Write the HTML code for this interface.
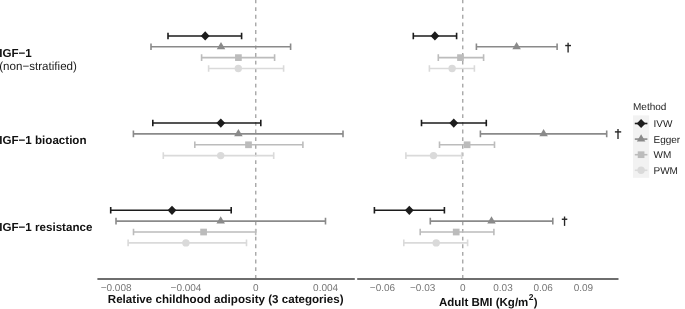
<!DOCTYPE html>
<html><head><meta charset="utf-8"><style>
html,body{margin:0;padding:0;background:#fff;}
svg{display:block;font-family:"Liberation Sans",sans-serif;filter:grayscale(1);text-rendering:geometricPrecision;}
</style></head><body>
<svg width="685" height="309" viewBox="0 0 685 309">
<rect width="685" height="309" fill="#fff"/>
<path d="M255.8 0V278M462.8 0V278" stroke="#8f8f8f" stroke-width="1.1" stroke-dasharray="3.825 3.825" stroke-dashoffset="0.5"/>
<path d="M168.00 35.93H241.60M168.00 32.63V39.23M241.60 32.63V39.23" stroke="#1c1c1c" stroke-width="1.6" fill="none"/>
<path d="M200.80 35.93L205.20 31.33L209.60 35.93L205.20 40.53Z" fill="#1c1c1c"/>
<path d="M151.00 46.78H290.60M151.00 43.48V50.08M290.60 43.48V50.08" stroke="#8a8a8a" stroke-width="1.6" fill="none"/>
<path d="M216.75 49.23L225.25 49.23L221.00 41.88Z" fill="#8a8a8a"/>
<path d="M201.60 57.62H274.60M201.60 54.33V60.92M274.60 54.33V60.92" stroke="#bcbcbc" stroke-width="1.6" fill="none"/>
<rect x="235.05" y="54.27" width="6.7" height="6.7" fill="#bcbcbc"/>
<path d="M208.60 68.47H283.60M208.60 65.17V71.77M283.60 65.17V71.77" stroke="#dadada" stroke-width="1.6" fill="none"/>
<circle cx="238.30" cy="68.47" r="3.7" fill="#dadada"/>
<path d="M152.80 123.07H260.80M152.80 119.77V126.37M260.80 119.77V126.37" stroke="#1c1c1c" stroke-width="1.6" fill="none"/>
<path d="M216.40 123.07L220.80 118.47L225.20 123.07L220.80 127.67Z" fill="#1c1c1c"/>
<path d="M133.40 133.92H343.00M133.40 130.62V137.22M343.00 130.62V137.22" stroke="#8a8a8a" stroke-width="1.6" fill="none"/>
<path d="M234.15 136.37L242.65 136.37L238.40 129.02Z" fill="#8a8a8a"/>
<path d="M194.80 144.78H302.90M194.80 141.47V148.08M302.90 141.47V148.08" stroke="#bcbcbc" stroke-width="1.6" fill="none"/>
<rect x="245.15" y="141.43" width="6.7" height="6.7" fill="#bcbcbc"/>
<path d="M163.30 155.62H273.70M163.30 152.32V158.93M273.70 152.32V158.93" stroke="#dadada" stroke-width="1.6" fill="none"/>
<circle cx="220.70" cy="155.62" r="3.7" fill="#dadada"/>
<path d="M110.70 210.32H231.20M110.70 207.02V213.62M231.20 207.02V213.62" stroke="#1c1c1c" stroke-width="1.6" fill="none"/>
<path d="M167.60 210.32L172.00 205.72L176.40 210.32L172.00 214.92Z" fill="#1c1c1c"/>
<path d="M116.00 221.17H325.50M116.00 217.87V224.47M325.50 217.87V224.47" stroke="#8a8a8a" stroke-width="1.6" fill="none"/>
<path d="M216.45 223.62L224.95 223.62L220.70 216.27Z" fill="#8a8a8a"/>
<path d="M133.50 232.03H255.70M133.50 228.72V235.33M255.70 228.72V235.33" stroke="#bcbcbc" stroke-width="1.6" fill="none"/>
<rect x="200.25" y="228.68" width="6.7" height="6.7" fill="#bcbcbc"/>
<path d="M128.10 242.88H246.50M128.10 239.57V246.18M246.50 239.57V246.18" stroke="#dadada" stroke-width="1.6" fill="none"/>
<circle cx="185.90" cy="242.88" r="3.7" fill="#dadada"/>
<path d="M413.30 35.93H456.60M413.30 32.63V39.23M456.60 32.63V39.23" stroke="#1c1c1c" stroke-width="1.6" fill="none"/>
<path d="M430.50 35.93L434.90 31.33L439.30 35.93L434.90 40.53Z" fill="#1c1c1c"/>
<path d="M476.40 46.78H557.10M476.40 43.48V50.08M557.10 43.48V50.08" stroke="#8a8a8a" stroke-width="1.6" fill="none"/>
<path d="M512.35 49.23L520.85 49.23L516.60 41.88Z" fill="#8a8a8a"/>
<path d="M438.30 57.62H483.60M438.30 54.33V60.92M483.60 54.33V60.92" stroke="#bcbcbc" stroke-width="1.6" fill="none"/>
<rect x="457.15" y="54.27" width="6.7" height="6.7" fill="#bcbcbc"/>
<path d="M429.40 68.47H474.40M429.40 65.17V71.77M474.40 65.17V71.77" stroke="#dadada" stroke-width="1.6" fill="none"/>
<circle cx="452.10" cy="68.47" r="3.7" fill="#dadada"/>
<path d="M421.50 123.07H486.30M421.50 119.77V126.37M486.30 119.77V126.37" stroke="#1c1c1c" stroke-width="1.6" fill="none"/>
<path d="M449.35 123.07L453.75 118.47L458.15 123.07L453.75 127.67Z" fill="#1c1c1c"/>
<path d="M480.40 133.92H606.70M480.40 130.62V137.22M606.70 130.62V137.22" stroke="#8a8a8a" stroke-width="1.6" fill="none"/>
<path d="M539.35 136.37L547.85 136.37L543.60 129.02Z" fill="#8a8a8a"/>
<path d="M439.50 144.78H494.50M439.50 141.47V148.08M494.50 141.47V148.08" stroke="#bcbcbc" stroke-width="1.6" fill="none"/>
<rect x="463.75" y="141.43" width="6.7" height="6.7" fill="#bcbcbc"/>
<path d="M405.90 155.62H461.70M405.90 152.32V158.93M461.70 152.32V158.93" stroke="#dadada" stroke-width="1.6" fill="none"/>
<circle cx="433.50" cy="155.62" r="3.7" fill="#dadada"/>
<path d="M374.40 210.32H444.40M374.40 207.02V213.62M444.40 207.02V213.62" stroke="#1c1c1c" stroke-width="1.6" fill="none"/>
<path d="M404.90 210.32L409.30 205.72L413.70 210.32L409.30 214.92Z" fill="#1c1c1c"/>
<path d="M430.30 221.17H552.80M430.30 217.87V224.47M552.80 217.87V224.47" stroke="#8a8a8a" stroke-width="1.6" fill="none"/>
<path d="M487.25 223.62L495.75 223.62L491.50 216.27Z" fill="#8a8a8a"/>
<path d="M420.20 232.03H493.90M420.20 228.72V235.33M493.90 228.72V235.33" stroke="#bcbcbc" stroke-width="1.6" fill="none"/>
<rect x="452.85" y="228.68" width="6.7" height="6.7" fill="#bcbcbc"/>
<path d="M403.80 242.88H467.60M403.80 239.57V246.18M467.60 239.57V246.18" stroke="#dadada" stroke-width="1.6" fill="none"/>
<circle cx="436.20" cy="242.88" r="3.7" fill="#dadada"/>
<path d="M568.10 42.80V52.50" stroke="#262626" stroke-width="1.35"/><path d="M565.20 45.55H571.00" stroke="#262626" stroke-width="1.4"/>
<path d="M618.00 128.90V138.90" stroke="#262626" stroke-width="1.35"/><path d="M614.90 131.90H621.20" stroke="#262626" stroke-width="1.4"/>
<path d="M564.55 216.50V225.90" stroke="#262626" stroke-width="1.35"/><path d="M561.80 219.25H567.30" stroke="#262626" stroke-width="1.4"/>
<path d="M97.4 279H354.8M357.2 279H618.5" stroke="#6e6e6e" stroke-width="2.1"/>
<text x="116.1" y="290.7" font-size="10" text-anchor="middle" fill="#777">−0.008</text>
<text x="186" y="290.7" font-size="10" text-anchor="middle" fill="#777">−0.004</text>
<text x="255.8" y="290.7" font-size="10" text-anchor="middle" fill="#777">0</text>
<text x="325.6" y="290.7" font-size="10" text-anchor="middle" fill="#777">0.004</text>
<text x="382.5" y="290.7" font-size="10" text-anchor="middle" fill="#777">−0.06</text>
<text x="422.7" y="290.7" font-size="10" text-anchor="middle" fill="#777">−0.03</text>
<text x="462.8" y="290.7" font-size="10" text-anchor="middle" fill="#777">0</text>
<text x="503" y="290.7" font-size="10" text-anchor="middle" fill="#777">0.03</text>
<text x="543.2" y="290.7" font-size="10" text-anchor="middle" fill="#777">0.06</text>
<text x="583.4" y="290.7" font-size="10" text-anchor="middle" fill="#777">0.09</text>
<text x="225.7" y="303" font-size="11.6" font-weight="bold" text-anchor="middle" fill="#111">Relative childhood adiposity (3 categories)</text>
<text x="438.9" y="306" font-size="11.5" font-weight="bold" fill="#111" id="rt">Adult BMI (Kg/m<tspan font-size="8.5" dx="0.3" dy="-5.6">2</tspan><tspan dx="0.3" dy="5.6">)</tspan></text>
<text x="-0.75" y="56.6" font-size="11.6" font-weight="bold" fill="#111">IGF−1</text>
<text x="-0.75" y="69.5" font-size="11.6" fill="#1a1a1a">(non−stratified)</text>
<text x="-0.75" y="144.1" font-size="11.6" font-weight="bold" fill="#111">IGF−1 bioaction</text>
<text x="-0.75" y="231.1" font-size="11.6" font-weight="bold" fill="#111">IGF−1 resistance</text>
<text x="633" y="109.7" font-size="10" fill="#1a1a1a">Method</text>
<rect x="633" y="115.4" width="16.2" height="62.4" fill="#f2f2f2"/>
<path d="M634.8 123.50H647.4" stroke="#1c1c1c" stroke-width="1.6"/>
<path d="M636.70 123.50L641.10 118.90L645.50 123.50L641.10 128.10Z" fill="#1c1c1c"/>
<text x="653.5" y="127.25" font-size="10" fill="#1a1a1a">IVW</text>
<path d="M634.8 139.10H647.4" stroke="#8a8a8a" stroke-width="1.6"/>
<path d="M636.85 141.55L645.35 141.55L641.10 134.20Z" fill="#8a8a8a"/>
<text x="653.5" y="142.85" font-size="10" fill="#1a1a1a">Egger</text>
<path d="M634.8 154.70H647.4" stroke="#bcbcbc" stroke-width="1.6"/>
<rect x="637.75" y="151.35" width="6.7" height="6.7" fill="#bcbcbc"/>
<text x="653.5" y="158.45" font-size="10" fill="#1a1a1a">WM</text>
<path d="M634.8 170.30H647.4" stroke="#dadada" stroke-width="1.6"/>
<circle cx="641.10" cy="170.30" r="3.7" fill="#dadada"/>
<text x="653.5" y="174.05" font-size="10" fill="#1a1a1a">PWM</text>
</svg>
</body></html>
